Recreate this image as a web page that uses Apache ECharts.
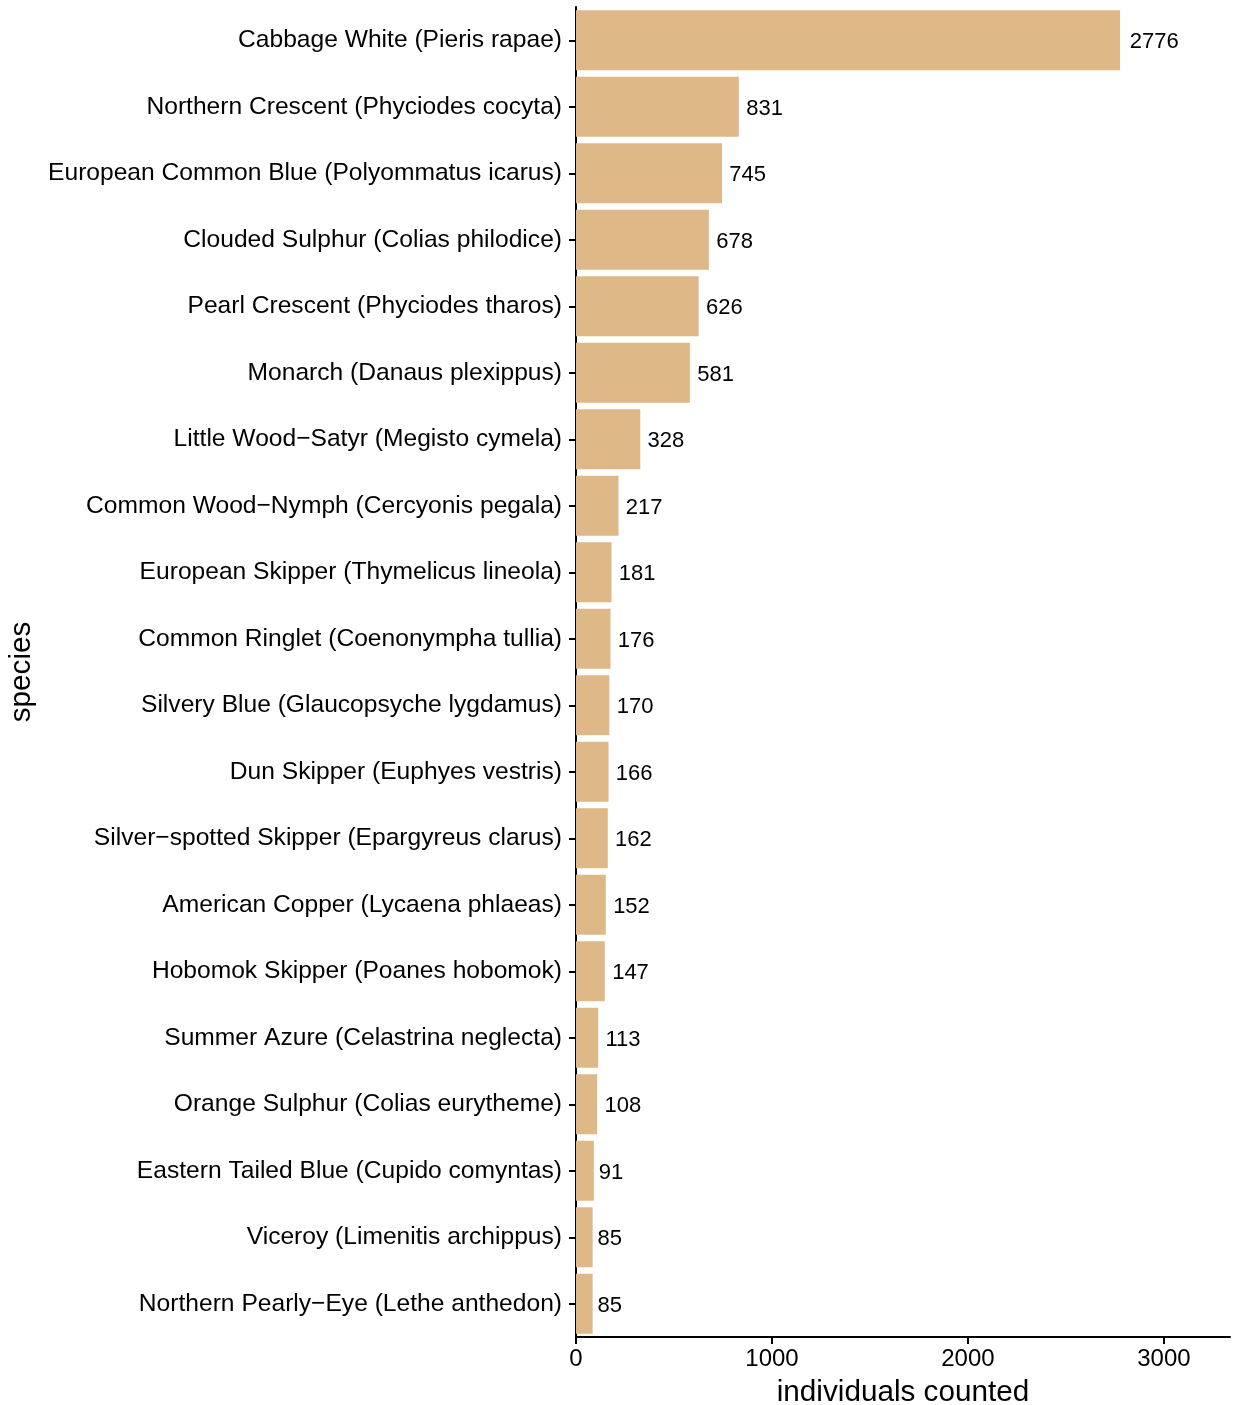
<!DOCTYPE html>
<html>
<head>
<meta charset="utf-8">
<script src="https://cdn.jsdelivr.net/npm/echarts@6/dist/echarts.min.js"></script>
<style>
html,body{margin:0;padding:0;background:#fff;}
#chart{width:1233px;height:1405px;}
</style>
</head>
<body>
<div id="chart"></div>
<script>
const species = [
  "Cabbage White (Pieris rapae)",
  "Northern Crescent (Phyciodes cocyta)",
  "European Common Blue (Polyommatus icarus)",
  "Clouded Sulphur (Colias philodice)",
  "Pearl Crescent (Phyciodes tharos)",
  "Monarch (Danaus plexippus)",
  "Little Wood\u2212Satyr (Megisto cymela)",
  "Common Wood\u2212Nymph (Cercyonis pegala)",
  "European Skipper (Thymelicus lineola)",
  "Common Ringlet (Coenonympha tullia)",
  "Silvery Blue (Glaucopsyche lygdamus)",
  "Dun Skipper (Euphyes vestris)",
  "Silver\u2212spotted Skipper (Epargyreus clarus)",
  "American Copper (Lycaena phlaeas)",
  "Hobomok Skipper (Poanes hobomok)",
  "Summer Azure (Celastrina neglecta)",
  "Orange Sulphur (Colias eurytheme)",
  "Eastern Tailed Blue (Cupido comyntas)",
  "Viceroy (Limenitis archippus)",
  "Northern Pearly\u2212Eye (Lethe anthedon)"
];
const counts = [2776, 831, 745, 678, 626, 581, 328, 217, 181, 176, 170, 166, 162, 152, 147, 113, 108, 91, 85, 85];
const xTicks = [0, 1000, 2000, 3000];

const FONT = "'Liberation Sans', Arial, sans-serif";
const labelSize = 22;

const chart = echarts.init(document.getElementById('chart'), null, {renderer: 'canvas'});

const seriesData = counts.map(v => ({
  value: v,
  label: { distance: 0.2 * String(v).length * 0.556 * labelSize }
}));

chart.setOption({
  animation: false,
  backgroundColor: '#ffffff',
  textStyle: { fontFamily: FONT, color: '#000' },
  grid: { left: 576, right: 3, top: 7, bottom: 68, containLabel: false, outerBoundsMode: 'none' },
  xAxis: {
    type: 'value',
    min: 0,
    max: 3337,
    interval: 1000,
    name: 'individuals counted',
    nameLocation: 'middle',
    nameGap: 41,
    nameTextStyle: { fontSize: 29.7, color: '#000', fontFamily: FONT },
    axisLine: { show: true, lineStyle: { color: '#000', width: 2 } },
    axisTick: { show: true, length: 7, lineStyle: { color: '#000', width: 2 } },
    axisLabel: {
      fontSize: 24, color: '#000', margin: 10, fontFamily: FONT,
      formatter: v => xTicks.includes(v) ? String(v) : '',
      showMaxLabel: false
    },
    splitLine: { show: false }
  },
  yAxis: {
    type: 'category',
    data: species,
    inverse: true,
    name: 'species',
    nameLocation: 'middle',
    nameGap: 538,
    nameTextStyle: { fontSize: 29.7, color: '#000', fontFamily: FONT },
    axisLine: { show: true, lineStyle: { color: '#000', width: 2 } },
    axisTick: { show: true, alignWithLabel: true, length: 7, lineStyle: { color: '#000', width: 2 } },
    axisLabel: { fontSize: 24.6, color: '#000', margin: 14, fontFamily: FONT, padding: [8, 0, 0, 0] },
    splitLine: { show: false }
  },
  series: [{
    type: 'bar',
    data: seriesData,
    barCategoryGap: '10%',
    itemStyle: { color: '#DEB887' },
    label: {
      show: true,
      position: 'right',
      fontSize: labelSize,
      color: '#000',
      fontFamily: FONT,
      offset: [0, 2]
    }
  }]
});
</script>
</body>
</html>
